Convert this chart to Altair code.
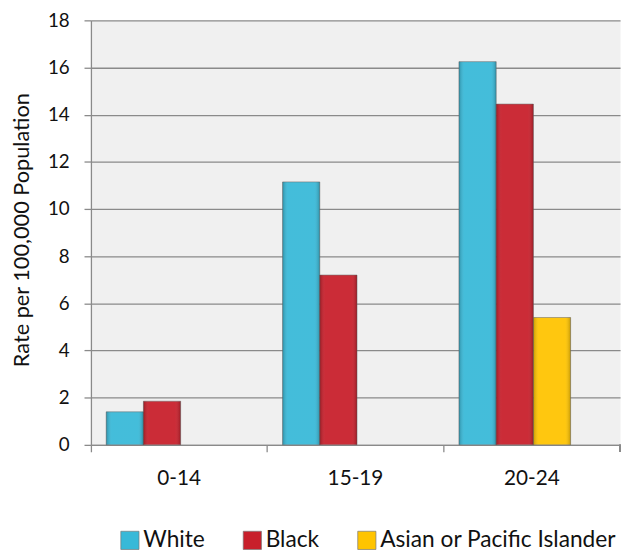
import altair as alt
import pandas as pd

age_groups = ["0-14", "15-19", "20-24"]
races = ["White", "Black", "Asian or Pacific Islander"]
white_vals = [1.4, 11.15, 16.25]
black_vals = [1.85, 7.2, 14.45]
api_vals = [None, None, 5.4]
colors = ["#38B9D8", "#C81F2B", "#FFC400"]
y_ticks = [0, 2, 4, 6, 8, 10, 12, 14, 16, 18]

rows = []
for race, vals in zip(races, [white_vals, black_vals, api_vals]):
    for g, v in zip(age_groups, vals):
        if v is not None:
            rows.append({"Age": g, "Race": race, "Rate": v})
df = pd.DataFrame(rows)

FONT = "Lato"
W, H = 536, 430
GRAY = "#8a8a8a"
TXT = "#111111"

x_enc = alt.X("Age:N", sort=age_groups,
              scale=alt.Scale(domain=age_groups, paddingInner=0, paddingOuter=0),
              axis=alt.Axis(title=None, bandPosition=0,
                            labelAngle=0, labelPadding=16, tickSize=7,
                            domainColor=GRAY, tickColor=GRAY, domainWidth=1.3,
                            tickWidth=1.3,
                            labelFontSize=21, labelColor=TXT, labelFont=FONT,
                            grid=False))
xoff_enc = alt.XOffset("Race:N", sort=races,
                       scale=alt.Scale(domain=races, paddingInner=0,
                                       paddingOuter=0.87, align=0.236))
y_enc = alt.Y("Rate:Q",
              scale=alt.Scale(domain=[0, 18], nice=False),
              axis=alt.Axis(title="Rate per 100,000 Population", values=y_ticks,
                            tickSize=7, labelPadding=15, labelFontSize=19,
                            labelColor=TXT, labelFont=FONT,
                            titleFont=FONT, titleFontSize=22, titleFontWeight="normal",
                            titleColor=TXT, titleAngle=-90, titleX=-70,
                            titleY=212, titleAlign="center", titleBaseline="middle",
                            domainColor=GRAY, tickColor=GRAY, domainWidth=1.3,
                            tickWidth=1.3,
                            gridColor=GRAY, gridWidth=1.3))

bars = alt.Chart(df).mark_bar(
    stroke="#6a6a6a", strokeWidth=0.7, strokeOpacity=0.8
).encode(
    x=x_enc, xOffset=xoff_enc, y=y_enc,
    color=alt.Color("Race:N", sort=races,
                    scale=alt.Scale(domain=races, range=colors),
                    legend=alt.Legend(title=None, orient="none", direction="horizontal",
                                      legendX=28, legendY=515,
                                      symbolType="square", symbolSize=340,
                                      symbolStrokeWidth=0.7, symbolStrokeColor="#777",
                                      labelFont=FONT, labelFontSize=23,
                                      labelColor=TXT, labelOffset=2,
                                      columnPadding=36, labelLimit=400)),
)

shade = alt.Chart(df).mark_bar(
    color=alt.Gradient(
        gradient="linear", x1=0, x2=1, y1=0, y2=0,
        stops=[alt.GradientStop(color="rgba(0,0,0,0.22)", offset=0),
               alt.GradientStop(color="rgba(255,255,255,0.06)", offset=0.15),
               alt.GradientStop(color="rgba(255,255,255,0.06)", offset=0.85),
               alt.GradientStop(color="rgba(0,0,0,0.22)", offset=1)]),
).encode(x=x_enc, xOffset=xoff_enc, y=y_enc)

end_tick = alt.Chart(df).mark_rule(color=GRAY, strokeWidth=1.3).encode(
    x=alt.value(W), y=alt.value(H), y2=alt.value(H + 7)
)

chart = alt.layer(bars, shade, end_tick).properties(
    width=W, height=H,
    autosize=alt.AutoSizeParams(type="none"),
    padding={"left": 84, "top": 9, "right": 5, "bottom": 105},
).configure_view(fill="#F0F0F0", stroke="transparent")

chart.save("out.html", embed_options={"renderer": "svg", "actions": False})
